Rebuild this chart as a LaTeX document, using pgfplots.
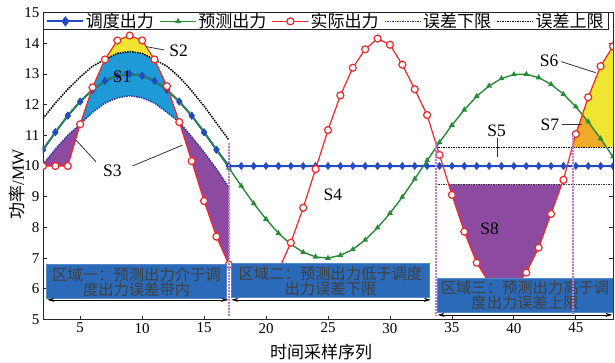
\documentclass[border=0pt]{standalone}
\usepackage{fontspec}
\setmainfont{Liberation Serif}
\newfontfamily\cjk{Noto Sans CJK SC}
\usepackage{pgfplots}
\pgfplotsset{compat=1.18}
\usetikzlibrary{arrows.meta}
\definecolor{dblue}{RGB}{35,75,195}
\definecolor{fgreen}{RGB}{40,140,55}
\definecolor{ared}{RGB}{240,40,40}
\definecolor{lowc}{RGB}{45,55,160}
\definecolor{cS1}{RGB}{30,155,215}
\definecolor{cyel}{RGB}{240,230,50}
\definecolor{cpur}{RGB}{140,75,160}
\definecolor{corg}{RGB}{240,170,40}
\definecolor{cbox}{RGB}{42,106,185}
\definecolor{cvl}{RGB}{195,120,220}
\newcommand{\slab}{\fontsize{17.5}{17.5}\selectfont}
\newcommand{\btxt}{\cjk\fontsize{15.3}{15.5}\selectfont}
\begin{document}
\begin{tikzpicture}
\path[use as bounding box] (-43pt,-42.5pt) rectangle (572pt,319.5pt);
\begin{axis}[
  at={(0pt,0pt)}, anchor=south west,
  scale only axis, width=570pt, height=307pt,
  xmin=2, xmax=48, ymin=5, ymax=15,
  xtick={5,10,...,45}, ytick={5,6,...,15},
  tick align=inside, major tick length=4pt,
  axis line style={line width=0.9pt, black!85},
  every tick/.style={black!85, line width=0.8pt},
  tick label style={font=\fontsize{15}{15}\selectfont},
  /pgf/number format/assume math mode=true,
  clip marker paths=true,
  xlabel={\cjk 时间采样序列},
  ylabel={{\cjk 功率}/MW},
  label style={font=\fontsize{17}{17}\selectfont},
  xlabel style={at={(axis description cs:0.488,-0.106)}, anchor=center},
  ylabel style={at={(axis description cs:-0.045,0.44)}, anchor=center},
  legend columns=5,
  legend style={at={(axis description cs:0,1)}, anchor=north west,
    draw=black!85, line width=0.8pt, inner xsep=3pt, inner ysep=0.5pt,
    nodes={inner xsep=1.5pt, inner ysep=0pt},
    font=\cjk\fontsize{17}{17}\selectfont,
    /tikz/every even column/.append style={column sep=4pt}},
  legend image code/.code={\draw[mark repeat=2,mark phase=2] plot coordinates {(0pt,0pt) (18pt,0pt) (36pt,0pt)};},
]
% ---- filled areas ----
\addplot[draw=none, fill=cS1, forget plot] coordinates {(5,11.36) (6,12.56) (7,13.47) (8,13.67) (9,13.73) (10,13.67) (11,13.47) (12,12.6) (13,11.43) (12,11.75) (11,12.05) (10,12.22) (9,12.29) (8,12.22) (7,12.05) (6,11.75)} -- cycle;
\addplot[draw=none, fill=cyel, forget plot] coordinates {(7,13.47) (8,14.09) (9,14.25) (10,14.09) (11,13.47) (10,13.67) (9,13.73) (8,13.67)} -- cycle;
\addplot[draw=none, fill=cpur, forget plot] coordinates {(2,10.0) (3,10.0) (4,10.0) (5,11.36) (4,11.0) (3,10.55) (2,10.05)} -- cycle;
\addplot[draw=none, fill=cpur, forget plot] coordinates {(13,11.43) (14,10.16) (15,8.86) (16,7.7) (17,6.79) (17,9.3) (16,9.9) (15,10.45) (14,10.95)} -- cycle;
\addplot[draw=none, fill=cpur, forget plot] coordinates {(34.74,9.4) (35,9.06) (36,7.86) (37,6.85) (38,6.2) (39,5.9) (40,6.0) (41,6.53) (42,7.34) (43,8.44) (43.86,9.4)} -- cycle;
\addplot[draw=none, fill=corg, forget plot] coordinates {(44.70,10.6) (45,11.04) (45.53,11.67) (46,11.44) (47,10.89) (47.49,10.6)} -- cycle;
\addplot[draw=none, fill=cyel, forget plot] coordinates {(45.53,11.67) (46,12.24) (47,13.25) (48,13.9) (48,10.6) (47.49,10.6) (47,10.89) (46,11.44)} -- cycle;
% ---- error bands ----
\addplot[lowc, line width=1.5pt, densely dotted, forget plot] coordinates {(2,10.05) (3,10.55) (4,11.0) (5,11.36) (6,11.75) (7,12.05) (8,12.22) (9,12.29) (10,12.22) (11,12.05) (12,11.75) (13,11.43) (14,10.95) (15,10.45) (16,9.9) (17,9.3)};
\addplot[black!80, line width=1.5pt, densely dotted, forget plot] coordinates {(33.9,9.4) (48,9.4)};
\addplot[black, line width=1.5pt, densely dotted, forget plot] coordinates {(2,11.55) (3,12.05) (4,12.5) (5,12.9) (6,13.25) (7,13.47) (8,13.67) (9,13.73) (10,13.67) (11,13.47) (12,13.25) (13,12.9) (14,12.45) (15,11.95) (16,11.4) (17,10.85)};
\addplot[black, line width=1.5pt, densely dotted, forget plot] coordinates {(33.9,10.6) (48,10.6)};
% ---- dispatch (line) ----
\addplot[dblue, line width=2pt, mark=diamond*, mark size=3.6pt, mark options={dblue, line width=0.5pt}, forget plot] coordinates {
(2,10.53) (3,11.10) (4,11.64) (5,12.10) (6,12.48) (7,12.77) (8,12.94) (9,13.00) (10,12.94) (11,12.77) (12,12.48) (13,12.10) (14,11.64) (15,11.10) (16,10.53) (17,10.0) (18,10.0) (19,10.0) (20,10.0) (21,10.0) (22,10.0) (23,10.0) (24,10.0) (25,10.0) (26,10.0) (27,10.0) (28,10.0) (29,10.0) (30,10.0) (31,10.0) (32,10.0) (33,10.0) (34,10.0) (35,10.0) (36,10.0) (37,10.0) (38,10.0) (39,10.0) (40,10.0) (41,10.0) (42,10.0) (43,10.0) (44,10.0) (45,10.0) (46,10.0) (47,10.0) (48,10.0)};
% ---- forecast ----
\addplot[fgreen, line width=1.4pt, mark=triangle*, mark size=2pt, mark options={fgreen}, forget plot] coordinates {
(2,10.53) (3,11.10) (4,11.64) (5,12.10) (6,12.48) (7,12.77) (8,12.94) (9,13.00) (10,12.94) (11,12.77) (12,12.48) (13,12.10) (14,11.64) (15,11.10) (16,10.53) (17,9.94) (18,9.35) (19,8.78) (20,8.27) (21,7.81) (22,7.45) (23,7.19) (24,7.04) (25,7.00) (26,7.09) (27,7.28) (28,7.59) (29,7.99) (30,8.46) (31,8.99) (32,9.58) (33,10.18) (34,10.77) (35,11.33) (36,11.83) (37,12.27) (38,12.61) (39,12.85) (40,12.98) (41,12.99) (42,12.88) (43,12.66) (44,12.34) (45,11.93) (46,11.44) (47,10.89) (48,10.30)};
% ---- dispatch markers on top in region 1 ----
\addplot[only marks, mark=diamond*, mark size=3.6pt, mark options={dblue, line width=0.5pt}, forget plot] coordinates {
(2,10.53) (3,11.10) (4,11.64) (5,12.10) (6,12.48) (7,12.77) (8,12.94) (9,13.00) (10,12.94) (11,12.77) (12,12.48) (13,12.10) (14,11.64) (15,11.10) (16,10.53) (17,10.0)};
% ---- actual ----
\addplot[ared, line width=1.2pt, mark=*, mark size=3.5pt, mark options={draw=ared, fill=white, line width=1.2pt}, forget plot] coordinates {
(2,10.0) (3,10.0) (4,10.0) (5,11.36) (6,12.56) (7,13.47) (8,14.09) (9,14.25) (10,14.09) (11,13.47) (12,12.6) (13,11.43) (14,10.16) (15,8.86) (16,7.7) (17,6.79) (18,6.2) (19,5.9) (20,6.1) (21,6.6) (22,7.5) (23,8.64) (24,9.9) (25,11.17) (26,12.3) (27,13.2) (28,13.8) (29,14.15) (30,13.95) (31,13.3) (32,12.5) (33,11.66) (34,10.36) (35,9.06) (36,7.86) (37,6.85) (38,6.2) (39,5.9) (40,6.0) (41,6.53) (42,7.34) (43,8.44) (44,9.55) (45,11.04) (46,12.24) (47,13.25) (48,13.9)};
% ---- region boxes ----
\addplot[fill=cbox, draw=cbox!80!white, line width=0.6pt, forget plot] coordinates {(2.3,5.70) (16.8,5.70) (16.8,6.81) (2.3,6.81)} -- cycle;
\addplot[fill=cbox, draw=cbox!80!white, line width=0.6pt, forget plot] coordinates {(17.2,5.73) (33.2,5.73) (33.2,6.84) (17.2,6.84)} -- cycle;
\addplot[fill=cbox, draw=cbox!80!white, line width=0.6pt, forget plot] coordinates {(33.85,5.24) (48,5.24) (48,6.35) (33.85,6.35)} -- cycle;
\node[align=center, inner sep=0pt, text=black!75, font=\btxt] at (axis cs:9.55,6.22) {区域一：预测出力介于调\\度出力误差带内};
\node[align=center, inner sep=0pt, text=black!75, font=\btxt] at (axis cs:25.2,6.25) {区域二：预测出力低于调度\\出力误差下限};
\node[align=center, inner sep=0pt, text=black!75, font=\btxt] at (axis cs:40.9,5.79) {区域三：预测出力高于调\\度出力误差上限};
% ---- region separators ----
\addplot[cvl, line width=2pt, dash pattern=on 1.6pt off 1.4pt, forget plot] coordinates {(17,10.75) (17,5.1)};
\addplot[cvl, line width=2pt, dash pattern=on 1.6pt off 1.4pt, forget plot] coordinates {(33.7,10.8) (33.7,5.1)};
\addplot[cvl, line width=2pt, dash pattern=on 1.6pt off 1.4pt, forget plot] coordinates {(44.75,11.0) (44.75,5.1)};
% ---- arrows ----
\addplot[black, line width=0.7pt, {Stealth[length=7pt,width=4pt]}-{Stealth[length=7pt,width=4pt]}, forget plot] coordinates {(2.35,5.64) (16.95,5.64)};
\addplot[black, line width=0.7pt, {Stealth[length=7pt,width=4pt]}-{Stealth[length=7pt,width=4pt]}, forget plot] coordinates {(17.2,5.64) (33.3,5.64)};
\addplot[black, line width=0.7pt, {Stealth[length=7pt,width=4pt]}-{Stealth[length=7pt,width=4pt]}, forget plot] coordinates {(33.85,5.15) (47.95,5.15)};
% ---- area labels ----
\node[font=\slab] at (axis cs:8.38,12.92) {S1};
\node[font=\slab] at (axis cs:12.95,13.75) {S2};
\draw[black!80, line width=0.8pt] (axis cs:10.31,13.89) -- (axis cs:11.77,13.78);
\node[font=\slab] at (axis cs:7.6,9.84) {S3};
\draw[black!80, line width=0.8pt] (axis cs:4.65,10.85) -- (axis cs:6.27,10.14);
\draw[black!80, line width=0.8pt] (axis cs:9.22,10.0) -- (axis cs:13.26,10.68);
\node[font=\slab] at (axis cs:25.4,9.06) {S4};
\node[font=\slab] at (axis cs:38.6,11.14) {S5};
\draw[black!80, line width=0.8pt] (axis cs:38.7,10.91) -- (axis cs:38.7,10.29);
\node[font=\slab] at (axis cs:42.84,13.42) {S6};
\draw[black!80, line width=0.8pt] (axis cs:43.83,13.40) -- (axis cs:46.6,13.04);
\node[font=\slab] at (axis cs:42.9,11.35) {S7};
\draw[black!80, line width=0.8pt] (axis cs:43.9,11.37) -- (axis cs:45.5,11.37);
\node[font=\slab] at (axis cs:38.05,7.95) {S8};
% ---- legend ----
\addlegendimage{dblue, line width=2pt, mark=diamond*, mark size=3.6pt, mark options={dblue}}
\addlegendentry{调度出力}
\addlegendimage{fgreen, line width=1.4pt, mark=triangle*, mark size=2pt, mark options={fgreen}}
\addlegendentry{预测出力}
\addlegendimage{ared, line width=1.2pt, mark=*, mark size=3.5pt, mark options={draw=ared, fill=white, line width=1.2pt}}
\addlegendentry{实际出力}
\addlegendimage{lowc, line width=1.5pt, densely dotted}
\addlegendentry{误差下限}
\addlegendimage{black, line width=1.5pt, densely dotted}
\addlegendentry{误差上限}
\end{axis}
\end{tikzpicture}
\end{document}
